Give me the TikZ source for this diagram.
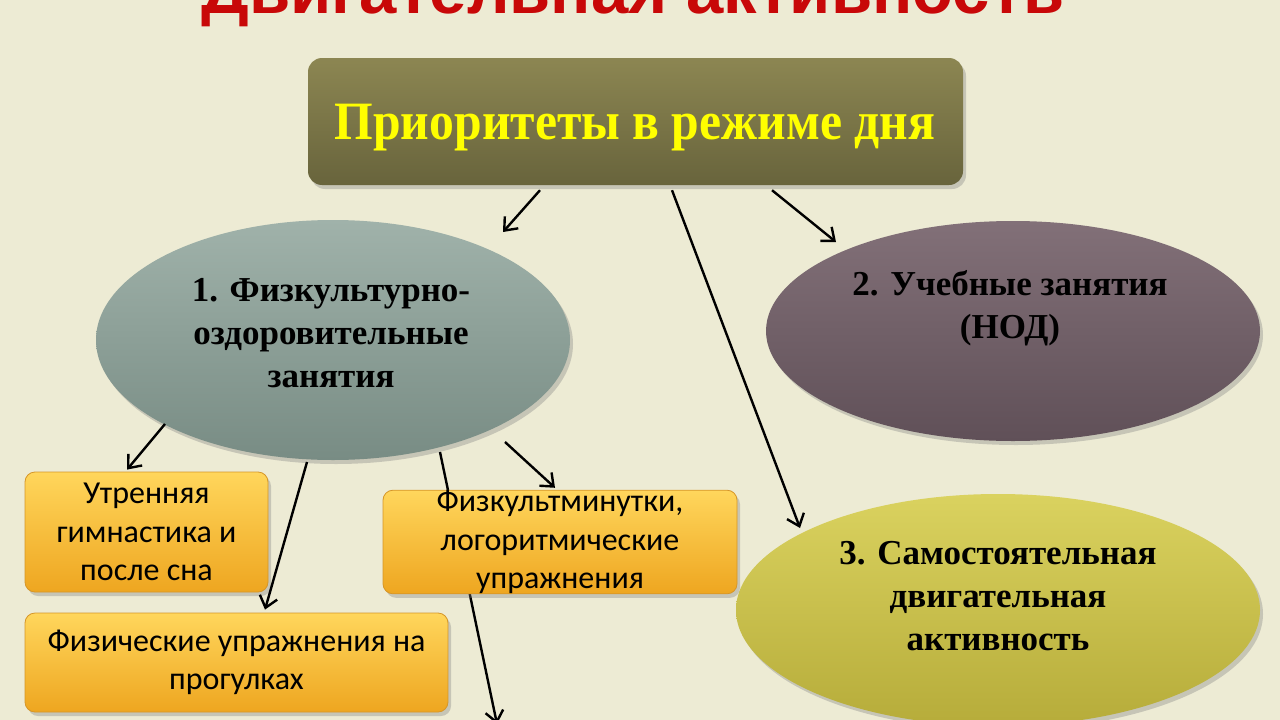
\documentclass[tikz,border=0pt]{standalone}
\usepackage{fontspec}
\setmainfont{Liberation Serif}
\newfontfamily\boxfont{Carlito}
\newfontfamily\titlefont{Liberation Sans}
\usetikzlibrary{shapes.geometric,shadows,arrows.meta}
\definecolor{bg}{RGB}{237,235,212}
\definecolor{titlered}{RGB}{200,8,8}
\definecolor{topA}{RGB}{140,134,82}
\definecolor{topB}{RGB}{104,100,60}
\definecolor{eoneA}{RGB}{160,178,170}
\definecolor{eoneB}{RGB}{120,140,132}
\definecolor{etwoA}{RGB}{130,112,120}
\definecolor{etwoB}{RGB}{96,80,88}
\definecolor{ethreeA}{RGB}{218,210,95}
\definecolor{ethreeB}{RGB}{182,172,58}
\definecolor{orA}{RGB}{255,214,92}
\definecolor{orB}{RGB}{238,166,32}
\definecolor{orD}{RGB}{214,150,40}
\definecolor{yel}{RGB}{255,255,0}
\begin{document}
\begin{tikzpicture}[x=1pt,y=-1pt,
  shd/.style={drop shadow={shadow xshift=3pt,shadow yshift=-4pt,opacity=0.35}},
  ell/.style={ellipse,shd,inner sep=0pt},
  elltext/.style={align=center,font=\bfseries\fontsize{35}{43}\selectfont},
  obox/.style={rectangle,rounded corners=10pt,shd,draw=orD,line width=0.8pt,top color=orA,bottom color=orB,
     inner sep=0pt,align=center,font=\boxfont\fontsize{32}{38.5}\selectfont},
  arr/.style={draw=black,line width=2.4pt,-{Straight Barb[length=11pt,width=18pt,line width=2.4pt]}}]
\useasboundingbox (0,0) rectangle (1280,720);
\fill[bg] (0,0) rectangle (1280,720);
\begin{scope}
\clip (0,0) rectangle (1280,720);
\node[anchor=base,text=titlered,font=\titlefont\bfseries\fontsize{67}{70}\selectfont] (title) at (633,13) {Двигательная активность};
\end{scope}

\node[rectangle,rounded corners=14pt,shd,minimum width=655pt,minimum height=127pt,inner sep=0pt,
  top color=topA,bottom color=topB] (top) at (635.5,121.5) {};
\node[text=yel,font=\bfseries\fontsize{54}{58}\selectfont] (toptext) at (635,128) {\scalebox{0.92}[1]{Приоритеты в режиме дня}};

\node[ell,minimum width=474pt,minimum height=240pt,top color=eoneA,bottom color=eoneB] (e1) at (333,340) {};
\node[elltext] (t1) at (331,333) {1. Физкультурно-\\оздоровительные\\занятия};
\node[ell,minimum width=494pt,minimum height=220pt,top color=etwoA,bottom color=etwoB] (e2) at (1013,331) {};
\node[elltext] (t2) at (1010,308) {2. Учебные занятия\\(НОД)};
\node[ell,minimum width=524pt,minimum height=232pt,top color=ethreeA,bottom color=ethreeB] (e3) at (998,610) {};
\node[elltext] (t3) at (998,596) {3. Самостоятельная\\двигательная\\активность};

\draw[arr] ([shift={(-95.5,5)}]top.south) -- ([shift={(170,-108)}]e1.center);
\draw[arr] ([shift={(36.5,5)}]top.south) -- ([shift={(-198,-82)}]e3.center);
\draw[arr] ([shift={(136.5,5)}]top.south) -- ([shift={(-177,-89)}]e2.center);

\coordinate (off) at (497,724);
\draw[arr] ([shift={(107,112)}]e1.center) -- (off);

\node[obox,minimum width=243pt,minimum height=120pt] (bA) at (146.5,532) {Утренняя\\гимнастика и\\после сна};
\node[obox,minimum width=423pt,minimum height=99pt] (bB) at (236.5,662.5) {Физические упражнения на\\прогулках};
\node[obox,minimum width=354pt,minimum height=100pt] (bC) at (560,542) {Физкультминутки,\\логоритмические\\упражнения};

\draw[arr] ([shift={(-168,84)}]e1.center) -- ([shift={(-19.5,-2)}]bA.north);
\draw[arr] ([shift={(-26,122)}]e1.center) -- ([shift={(28.5,-3)}]bB.north);
\draw[arr] ([shift={(172,102)}]e1.center) -- ([shift={(-5,-2)}]bC.north);
\end{tikzpicture}
\end{document}
